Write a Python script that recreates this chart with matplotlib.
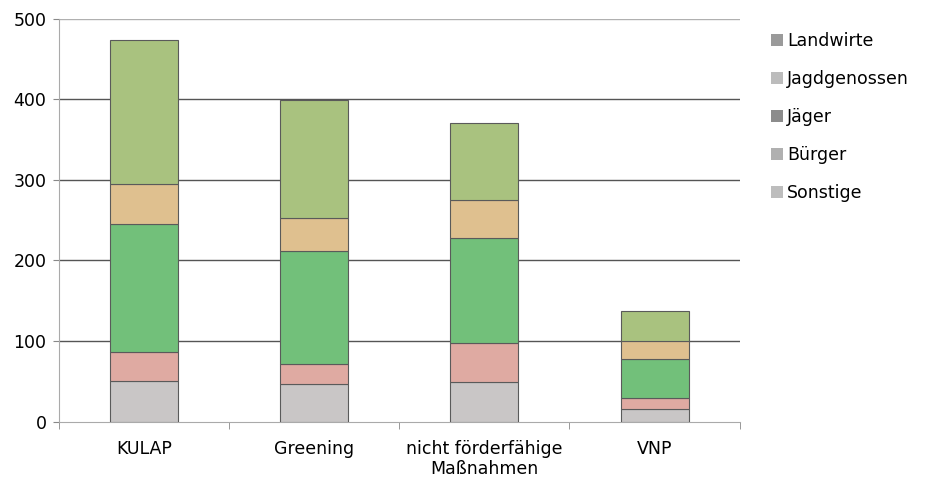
import matplotlib
matplotlib.use("Agg")
import matplotlib.pyplot as plt
from matplotlib.patches import Patch
import numpy as np

# ---------------------------------------------------------------------------
# Data
# ---------------------------------------------------------------------------
categories = ["KULAP", "Greening", "nicht förderfähige\nMaßnahmen", "VNP"]
series = ["Sonstige", "Bürger", "Jäger", "Jagdgenossen", "Landwirte"]

sonstige     = [50, 46, 49, 15]
buerger      = [36, 25, 48, 14]
jaeger       = [159, 141, 131, 49]
jagdgenossen = [50, 41, 47, 22]
landwirte    = [179, 146, 96, 37]

values = [sonstige, buerger, jaeger, jagdgenossen, landwirte]

# bar fills and the (grey, scanned-looking) legend swatches
C_BAR = ["#c9c6c6", "#dfaaa2", "#72c07a", "#dfc08f", "#a9c27f"]
C_LEG = ["#bdbdbd", "#b0b0b0", "#8c8c8c", "#bcbcbc", "#9a9a9a"]

# ---------------------------------------------------------------------------
# Figure
# ---------------------------------------------------------------------------
fig = plt.figure(figsize=(9.28, 4.86), dpi=100)
ax = fig.add_axes([0.0636, 0.1327, 0.7334, 0.8283])

x = np.arange(len(categories))
bottom = np.zeros(len(categories))
for vals, col in zip(values, C_BAR):
    ax.bar(x, vals, width=0.4, bottom=bottom, color=col,
           edgecolor="#5a5a5a", linewidth=0.8, zorder=3)
    bottom += np.array(vals)

ax.set_xlim(-0.5, len(categories) - 0.5)
ax.set_ylim(0, 500)
ax.set_yticks(range(0, 501, 100))
ax.tick_params(axis="y", length=4, color="#888888", labelsize=12.5, pad=5)

# gridlines
for yv in range(100, 500, 100):
    ax.axhline(yv, color="#555555", lw=1.0, zorder=1)
ax.axhline(500, color="#b0b0b0", lw=1.0, zorder=1)

# category labels in the middle, tick marks at category boundaries
ax.set_xticks(x)
ax.set_xticklabels(categories, fontsize=12.5)
ax.tick_params(axis="x", length=0, pad=13)
ax.set_xticks(np.arange(-0.5, len(categories)), minor=True)
ax.tick_params(axis="x", which="minor", length=5, color="#888888")

for s in ["top", "right"]:
    ax.spines[s].set_visible(False)
ax.spines["left"].set_color("#aaaaaa")
ax.spines["bottom"].set_color("#aaaaaa")

# legend (Landwirte at the top)
handles = [Patch(facecolor=c, edgecolor="none") for c in C_LEG[::-1]]
fig.legend(handles, series[::-1], loc="upper left",
           bbox_to_anchor=(0.823, 0.948), frameon=False, fontsize=12.5,
           handlelength=0.7, handleheight=0.7, handletextpad=0.25,
           labelspacing=1.15, borderaxespad=0)

fig.savefig("out.png", dpi=100, facecolor="white")
